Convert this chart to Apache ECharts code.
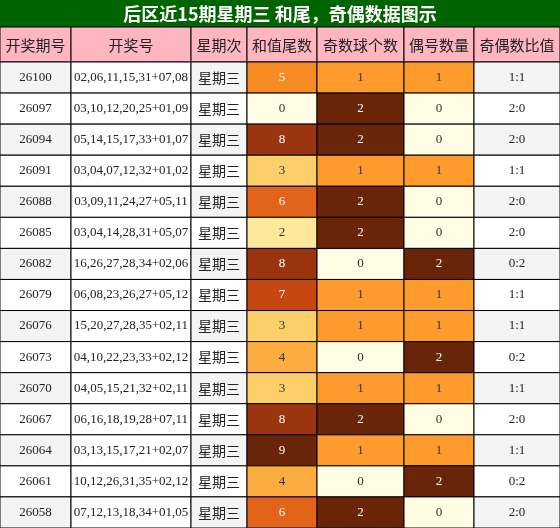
<!DOCTYPE html><html><head><meta charset="utf-8"><script src="https://cdn.jsdelivr.net/npm/echarts@6/dist/echarts.min.js"></script>
<style>html,body{margin:0;padding:0}#c{width:560px;height:528px}</style></head><body><div id="c"></div><script>
const title='后区近15期星期三 和尾，奇偶数据图示';
const headers=['开奖期号','开奖号','星期次','和值尾数','奇数球个数','偶号数量','奇偶数比值'];
const issues=['26100','26097','26094','26091','26088','26085','26082','26079','26076','26073','26070','26067','26064','26061','26058'];
const numbers=['02,06,11,15,31+07,08','03,10,12,20,25+01,09','05,14,15,17,33+01,07','03,04,07,12,32+01,02','03,09,11,24,27+05,11','03,04,14,28,31+05,07','16,26,27,28,34+02,06','06,08,23,26,27+05,12','15,20,27,28,35+02,11','04,10,22,23,33+02,12','04,05,15,21,32+02,11','06,16,18,19,28+07,11','03,13,15,17,21+02,07','10,12,26,31,35+02,12','07,12,13,18,34+01,05'];
const weekday=issues.map(()=> '星期三');
const sumTail=[5,0,8,3,6,2,8,7,3,4,3,8,9,4,6];
const oddCount=[1,2,2,1,2,2,0,1,1,0,1,2,1,0,2];
const evenCount=[1,0,0,1,0,0,2,1,1,2,1,0,1,2,0];
const ratio=['1:1','2:0','2:0','1:1','2:0','2:0','0:2','1:1','1:1','0:2','1:1','2:0','1:1','0:2','2:0'];
const edges=[0,71,191,247,317,404,474,560];
const tailColor={0:'#fffde3',1:'#fff3c0',2:'#fee99b',3:'#fdcf68',4:'#fdac3f',5:'#f58b23',6:'#e2641a',7:'#c74712',8:'#9a3510',9:'#6a2508'};
const cntColor={0:'#fffde3',1:'#fd9b2c',2:'#6a2508'};
const data=[];
issues.forEach((v,i)=>{
 const row=[issues[i],numbers[i],weekday[i],sumTail[i],oddCount[i],evenCount[i],ratio[i]];
 row.forEach((t,c)=>data.push([c,i,String(t)]));
});
const chart=echarts.init(document.getElementById('c'));
const serif='"Liberation Serif","Noto Sans CJK SC",serif';
function cellStyle(c,r,t){
 let fill=(r%2===0&&(c===0||c===2||c===6))?'#f4f4f4':'#ffffff',tc='#222';
 if(c===3){fill=tailColor[+t];tc=(+t>=5)?'#ffffff':'#333';}
 if(c===4||c===5){fill=cntColor[+t];tc=(+t===2)?'#ffffff':'#333';}
 return {fill,tc};
}
chart.setOption({
 animation:false,
 grid:{left:0,right:0,top:62,bottom:0},
 xAxis:{type:'value',min:0,max:560,show:false},
 yAxis:{type:'category',data:issues,inverse:true,show:false},
 graphic:[
  {type:'rect',shape:{x:0,y:0,width:560,height:27},style:{fill:'#006400'}},
  {type:'text',x:280,y:14,style:{text:title,fill:'#fff',font:'bold 18px "Noto Sans CJK SC"',align:'center',verticalAlign:'middle'}},
  ...headers.map((h,c)=>({type:'rect',shape:{x:edges[c],y:27,width:edges[c+1]-edges[c],height:35},style:{fill:'#ffb6c1',stroke:'#000',lineWidth:1}})),
  ...headers.map((h,c)=>({type:'text',x:(edges[c]+edges[c+1])/2,y:45,style:{text:h,fill:'#222',font:'15px "Noto Sans CJK SC"',align:'center',verticalAlign:'middle'}}))
 ],
 series:[{type:'custom',data:data,renderItem:function(p,api){
  const c=api.value(0),r=api.value(1),t=data[p.dataIndex][2];
  const a=api.coord([edges[c],r]),b=api.coord([edges[c+1],r]);
  const h=api.size([0,1])[1];
  const s=cellStyle(c,r,t);
  const cjk=(c===2);
  return {type:'group',children:[
   {type:'rect',shape:{x:a[0],y:a[1]-h/2,width:b[0]-a[0],height:h},style:{fill:s.fill,stroke:'#000',lineWidth:1}},
   {type:'text',x:(a[0]+b[0])/2,y:a[1],style:{text:t,fill:s.tc,font:cjk?'14px "Noto Sans CJK SC"':'13px '+serif,align:'center',verticalAlign:'middle'}}
  ]};
 }}]
});
</script></body></html>
